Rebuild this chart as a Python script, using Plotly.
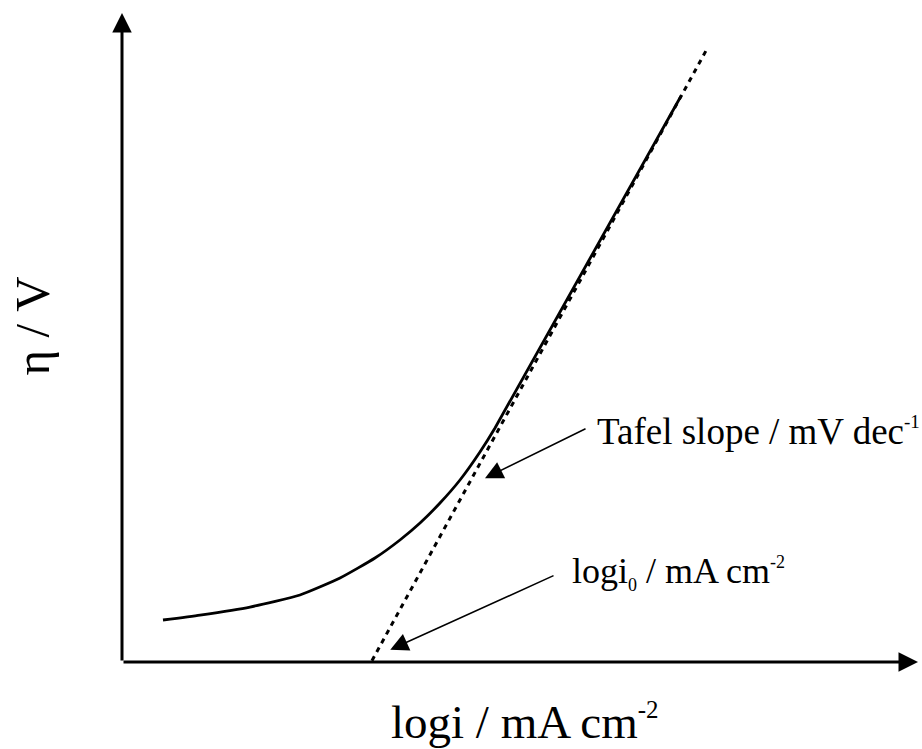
import plotly.graph_objects as go

# Polarization curve (log i vs overpotential), arbitrary units
log_i = [0.515, 0.980, 1.608, 2.236, 2.739, 3.178, 3.492, 3.744, 3.995, 4.246, 4.497, 4.686, 7.023]
eta = [0.649, 0.726, 0.850, 1.036, 1.298, 1.607, 1.886, 2.148, 2.457, 2.813, 3.246, 3.617, 8.748]

# Tafel extrapolation line
tafel_log_i = [3.14, 7.36]
tafel_eta = [0.02, 9.50]

FONT = '"Times New Roman", "Liberation Serif", "DejaVu Serif", Times, serif'


def small(txt, size):
    return "<span style='font-size:%dpx'>%s</span>" % (size, txt)


fig = go.Figure()
fig.add_trace(go.Scatter(x=tafel_log_i, y=tafel_eta, mode="lines",
                         line=dict(color="black", width=3, dash="5px,5px"),
                         hoverinfo="skip"))
fig.add_trace(go.Scatter(x=log_i, y=eta, mode="lines",
                         line=dict(color="black", width=2.8, shape="spline", smoothing=0.5),
                         hoverinfo="skip"))

ann = []
# axes with arrows
ann.append(dict(x=10.0, y=0, ax=0, ay=0, xref="x", yref="y", axref="x", ayref="y",
                text="", showarrow=True, arrowhead=2, arrowsize=1.3, arrowwidth=3, arrowcolor="black"))
ann.append(dict(x=0, y=10.03, ax=0, ay=0, xref="x", yref="y", axref="x", ayref="y",
                text="", showarrow=True, arrowhead=2, arrowsize=1.3, arrowwidth=3, arrowcolor="black"))
# pointer arrows
ann.append(dict(x=4.56, y=2.84, ax=5.842, ay=3.617, xref="x", yref="y", axref="x", ayref="y",
                text="", showarrow=True, arrowhead=2, arrowsize=2.4, arrowwidth=1.5, arrowcolor="black"))
ann.append(dict(x=3.37, y=0.19, ax=5.44, ay=1.345, xref="x", yref="y", axref="x", ayref="y",
                text="", showarrow=True, arrowhead=2, arrowsize=2.4, arrowwidth=1.5, arrowcolor="black"))
# labels
ann.append(dict(x=5.94, y=3.555, xref="x", yref="y", xanchor="left", yanchor="middle",
                text="Tafel slope / mV dec<sup>" + small("-1", 19) + "</sup>", showarrow=False,
                font=dict(family=FONT, size=37, color="black")))
ann.append(dict(x=5.628, y=1.376, xref="x", yref="y", xanchor="left", yanchor="middle",
                text="logi<sub>" + small("0", 18) + "</sub> / mA cm<sup>" + small("-2", 18) + "</sup>",
                showarrow=False,
                font=dict(family=FONT, size=36, color="black")))
ann.append(dict(x=0.506, y=-0.093, xref="paper", yref="paper", xanchor="center", yanchor="middle",
                text="logi / mA cm<sup>" + small("-2", 25) + "</sup>", showarrow=False,
                font=dict(family=FONT, size=47, color="black")))
ann.append(dict(x=-0.112, y=0.52, xref="paper", yref="paper", xanchor="center", yanchor="middle",
                text="η / V", showarrow=False, textangle=-90,
                font=dict(family=FONT, size=49, color="black")))

fig.update_layout(
    width=922, height=749,
    margin=dict(l=122, r=4, t=15, b=87),
    paper_bgcolor="white", plot_bgcolor="white",
    showlegend=False,
    annotations=ann,
    xaxis=dict(range=[0, 10], visible=False, showgrid=False, zeroline=False),
    yaxis=dict(range=[0, 10], visible=False, showgrid=False, zeroline=False),
)

fig.write_html("out.html")
